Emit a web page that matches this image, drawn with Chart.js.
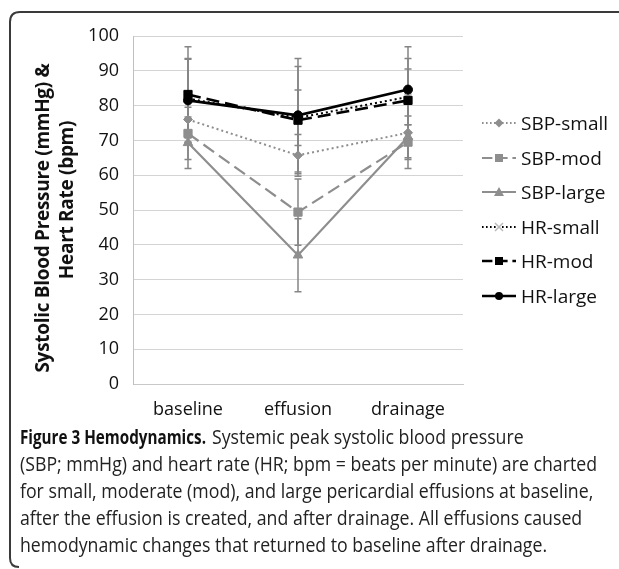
<!DOCTYPE html>
<html>
<head>
<meta charset="utf-8">
<script src="https://cdn.jsdelivr.net/npm/chart.js@4.4.1/dist/chart.umd.min.js"></script>
<style>
  html, body { margin: 0; padding: 0; background: #fff; width: 619px; height: 569px; overflow: hidden; }
  #frame { position: absolute; left: 0; top: 0; }
  #wrap { position: absolute; left: 0; top: 0; width: 619px; height: 430px; }
  .yt { position: absolute; width: 380px; transform: translate(-50%, -50%) rotate(-90deg); text-align: center; font: bold 19px "Open Sans", sans-serif; line-height: 24px; color: #111; white-space: nowrap; letter-spacing: -0.3px; }
  #legend { position: absolute; left: 480px; top: 110px; font: 19px "Open Sans", sans-serif; color: #111; }
  .li { position: absolute; left: 0; height: 26px; display: flex; align-items: center; white-space: nowrap; }
  .li svg { width: 38px; height: 20px; margin-right: 3px; }
  #caption { position: absolute; left: 20px; top: 423px; font: 20px "Open Sans", sans-serif; color: #222; line-height: 27px; }
  #caption .ln { position: relative; height: 27px; }
  #caption .fit { position: absolute; top: 0; white-space: nowrap; width: max-content; transform-origin: 0 50%; }
  #caption b { color: #111; }
</style>
</head>
<body>
<svg id="frame" width="619" height="569"><path d="M19 567 Q10 567 10 558 L10 22 Q10 12 20 12 L619 12" fill="none" stroke="#3a3a3a" stroke-width="2"/></svg>
<div id="wrap"><canvas id="c" width="619" height="430"></canvas></div>
<div class="yt" style="left:42px; top:218px;">Systolic Blood Pressure (mmHg) &amp;</div>
<div class="yt" style="left:66px; top:200px;">Heart Rate (bpm)</div>
<div id="legend"></div>
<div id="caption">
  <div class="ln"><span class="fit" id="capBold" data-x="0"><b>Figure 3 Hemodynamics.</b></span><span class="fit" data-x="192">Systemic peak systolic blood pressure</span></div>
  <div class="ln"><span class="fit" id="capRef" data-x="0">(SBP; mmHg) and heart rate (HR; bpm = beats per minute) are charted</span></div>
  <div class="ln"><span class="fit" data-x="0">for small, moderate (mod), and large pericardial effusions at baseline,</span></div>
  <div class="ln"><span class="fit" data-x="0">after the effusion is created, and after drainage. All effusions caused</span></div>
  <div class="ln"><span class="fit" data-x="0">hemodynamic changes that returned to baseline after drainage.</span></div>
</div>
<script>
const categories = ['baseline', 'effusion', 'drainage'];
const seriesNames = ['SBP-small', 'SBP-mod', 'SBP-large', 'HR-small', 'HR-mod', 'HR-large'];
const sbpSmall = [76.0, 65.7, 72.2];
const sbpMod = [72.0, 49.4, 69.5];
const sbpLarge = [69.3, 37.0, 71.0];
const hrSmall = [82.0, 76.5, 82.5];
const hrMod = [83.2, 75.8, 81.5];
const hrLarge = [81.5, 77.2, 84.6];
const sbpSmallSD = [5.0, 6.0, 10.3];
const sbpModSD = [7.5, 9.5, 5.0];
const sbpLargeSD = [7.4, 10.5, 6.0];
const hrSmallSD = [11.3, 8.0, 8.0];
const hrModSD = [13.7, 15.4, 12.0];
const hrLargeSD = [12.0, 16.3, 12.3];
const yTicks = [0, 10, 20, 30, 40, 50, 60, 70, 80, 90, 100];

const GRAY = '#8e8e8e';
const BLACK = '#000';
const styles = [
  { color: GRAY, dash: [2, 3], point: 'rectRot', r: 4.5, width: 2 },
  { color: GRAY, dash: [13, 6], point: 'rect', r: 5.8, width: 2.2 },
  { color: GRAY, dash: [], point: 'triangle', r: 5.5, width: 2.2 },
  { color: BLACK, dash: [2, 3], point: 'crossRot', r: 5, width: 2, pointColor: '#bbb' },
  { color: BLACK, dash: [13, 6], point: 'rect', r: 5.8, width: 2.6 },
  { color: BLACK, dash: [], point: 'circle', r: 4.5, width: 2.6 }
];
const values = [sbpSmall, sbpMod, sbpLarge, hrSmall, hrMod, hrLarge];
const sds = [sbpSmallSD, sbpModSD, sbpLargeSD, hrSmallSD, hrModSD, hrLargeSD];

const datasets = values.map((v, i) => ({
  label: seriesNames[i],
  data: v,
  sd: sds[i],
  borderColor: styles[i].color,
  backgroundColor: styles[i].pointColor || styles[i].color,
  pointBorderColor: styles[i].pointColor || styles[i].color,
  pointBackgroundColor: styles[i].pointColor || styles[i].color,
  borderDash: styles[i].dash,
  borderWidth: styles[i].width,
  pointStyle: styles[i].point,
  pointRadius: styles[i].r,
  pointBorderWidth: styles[i].point === 'crossRot' ? 1.5 : 1,
  tension: 0,
  order: 6 - i
}));

const errorBars = {
  id: 'errorBars',
  beforeDatasetsDraw(chart) {
    const ctx = chart.ctx;
    const y = chart.scales.y;
    ctx.save();
    ctx.strokeStyle = '#858585';
    ctx.lineWidth = 1.5;
    chart.data.datasets.forEach((ds, di) => {
      const meta = chart.getDatasetMeta(di);
      meta.data.forEach((pt, j) => {
        const v = ds.data[j], s = ds.sd[j];
        const yt = y.getPixelForValue(v + s), yb = y.getPixelForValue(v - s);
        ctx.beginPath();
        ctx.moveTo(pt.x, yt); ctx.lineTo(pt.x, yb);
        ctx.moveTo(pt.x - 3.5, yt); ctx.lineTo(pt.x + 3.5, yt);
        ctx.moveTo(pt.x - 3.5, yb); ctx.lineTo(pt.x + 3.5, yb);
        ctx.stroke();
      });
    });
    ctx.restore();
  }
};

new Chart(document.getElementById('c'), {
  type: 'line',
  data: { labels: categories, datasets },
  plugins: [errorBars],
  options: {
    responsive: false,
    animation: false,
    layout: { padding: { top: 36, right: 156, left: 0, bottom: 0 } },
    plugins: { legend: { display: false }, tooltip: { enabled: false } },
    scales: {
      x: {
        offset: true,
        grid: { display: false },
        border: { color: '#c8c8c8' },
        ticks: { color: '#111', font: { family: 'Open Sans', size: 18 }, padding: 7, maxRotation: 0 },
        afterFit(s) { s.height = 46; }
      },
      y: {
        min: 0, max: 100,
        afterBuildTicks(s) { s.ticks = yTicks.map(v => ({ value: v })); },
        grid: { color: '#d4d4d4', lineWidth: 1, drawTicks: false },
        border: { color: '#c0c0c0' },
        ticks: { color: '#111', font: { family: 'Open Sans', size: 18 }, padding: 14 },
        afterFit(s) { s.width = 133; }
      }
    }
  }
});

// HTML legend
const legend = document.getElementById('legend');
function markerSVG(st) {
  const cx = 19, cy = 10, c = st.pointColor || st.color;
  switch (st.point) {
    case 'rectRot': return `<polygon points="${cx},${cy-4.5} ${cx+4.5},${cy} ${cx},${cy+4.5} ${cx-4.5},${cy}" fill="${c}"/>`;
    case 'rect': return `<rect x="${cx-4}" y="${cy-4}" width="8" height="8" fill="${c}"/>`;
    case 'triangle': return `<polygon points="${cx},${cy-5} ${cx+5},${cy+4} ${cx-5},${cy+4}" fill="${c}"/>`;
    case 'crossRot': return `<path d="M${cx-4} ${cy-4}L${cx+4} ${cy+4}M${cx+4} ${cy-4}L${cx-4} ${cy+4}" stroke="${c}" stroke-width="1.5"/>`;
    default: return `<circle cx="${cx}" cy="${cy}" r="4" fill="${c}"/>`;
  }
}
seriesNames.forEach((name, i) => {
  const st = styles[i];
  const d = document.createElement('div');
  d.className = 'li';
  d.style.top = (i * 34.6) + 'px';
  const dash = st.dash.length ? `stroke-dasharray="${st.dash.map(x => x * 0.8).join(' ')}"` : '';
  d.innerHTML = `<svg viewBox="0 0 38 20"><line x1="2" y1="10" x2="36" y2="10" stroke="${st.color}" stroke-width="${st.width}" ${dash}/>${markerSVG(st)}</svg><span>${name}</span>`;
  legend.appendChild(d);
});

// uniform horizontal condensing of caption text (reference typeface is narrower)
const refEl = document.getElementById('capRef');
const k = 577 / refEl.getBoundingClientRect().width;
const boldEl = document.getElementById('capBold');
const kb = 186 / boldEl.getBoundingClientRect().width;
document.querySelectorAll('#caption .fit').forEach(el => {
  el.style.left = el.dataset.x + 'px';
  el.style.transform = `scaleX(${el === boldEl ? kb : k})`;
});
</script>
</body>
</html>
